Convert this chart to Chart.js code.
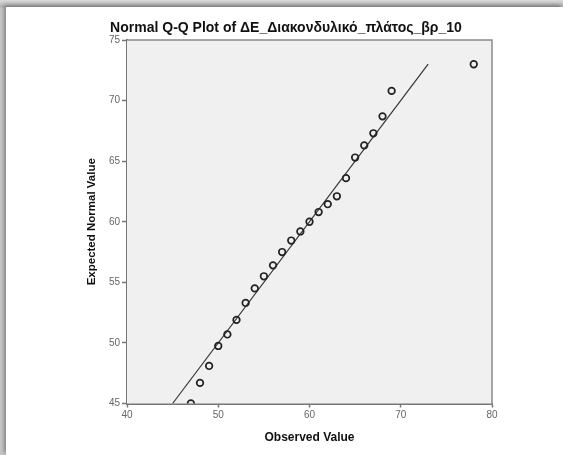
<!DOCTYPE html>
<html>
<head>
<meta charset="utf-8">
<script src="https://cdn.jsdelivr.net/npm/chart.js@4/dist/chart.umd.min.js"></script>
<style>
  html, body { margin: 0; padding: 0; }
  body { width: 563px; height: 455px; position: relative; overflow: hidden;
         background: linear-gradient(to bottom, #dcdcdc, #b4b4b4 7px, #c8c8c8 8px); }
  #card { position: absolute; left: 6px; top: 7px; right: 0; bottom: 0; background: #fff;
          box-shadow: -2px -2px 4px rgba(0,0,0,0.35); }
  #qq { position: absolute; left: 0; top: 0; }
</style>
</head>
<body>
<div id="card"></div>
<canvas id="qq" width="563" height="455"></canvas>
<script>
// observed values and their expected normal values
const observed = [47, 48, 49, 50, 51, 52, 53, 54, 55, 56, 57, 58, 59, 60, 61, 62, 63, 64, 65, 66, 67, 68, 69, 78];
const expected = [45.0, 46.7, 48.1, 49.75, 50.7, 51.9, 53.3, 54.5, 55.5, 56.4, 57.5, 58.45, 59.2, 60.0, 60.8, 61.45, 62.1, 63.6, 65.3, 66.3, 67.3, 68.7, 70.8, 73.0];

// reference line y = x
const lineX = [45, 73];
const lineY = [45, 73];

const xTicks = [40, 50, 60, 70, 80];
const yTicks = [45, 50, 55, 60, 65, 70, 75];

const fontFamily = '"Liberation Sans", Arial, sans-serif';

const plotFrame = {
    id: 'plotFrame',
    beforeDatasetsDraw(chart) {
        const { ctx, chartArea: a } = chart;
        ctx.save();
        ctx.fillStyle = '#f0f0f0';
        ctx.fillRect(a.left, a.top, a.right - a.left, a.bottom - a.top);
        ctx.strokeStyle = '#8a8a8a';
        ctx.lineWidth = 1.5;
        ctx.beginPath();
        ctx.moveTo(a.left, a.top);
        ctx.lineTo(a.right, a.top);
        ctx.lineTo(a.right, a.bottom);
        ctx.stroke();
        ctx.restore();
    }
};

const points = observed.map((v, i) => ({ x: v, y: expected[i] }));
const refLine = lineX.map((v, i) => ({ x: v, y: lineY[i] }));

new Chart(document.getElementById('qq'), {
    type: 'scatter',
    data: {
        datasets: [
            {
                data: points,
                pointStyle: 'circle',
                pointRadius: 3.3,
                pointBorderWidth: 1.7,
                borderColor: '#222',
                backgroundColor: 'rgba(0,0,0,0)'
            },
            {
                data: refLine,
                showLine: true,
                pointRadius: 0,
                borderColor: '#333',
                borderWidth: 1.2
            }
        ]
    },
    options: {
        responsive: false,
        animation: false,
        layout: { padding: { left: 80, right: 71, top: 0, bottom: 10 } },
        plugins: {
            legend: { display: false },
            tooltip: { enabled: false },
            title: {
                display: true,
                text: 'Normal Q-Q Plot of ΔΕ_Διακονδυλικό_πλάτος_βρ_10',
                color: '#111',
                font: { family: fontFamily, size: 14, weight: 'bold' },
                padding: { top: 19.5, bottom: 3.7 }
            }
        },
        scales: {
            x: {
                type: 'linear',
                min: 40,
                max: 80,
                afterBuildTicks: s => { s.ticks = xTicks.map(v => ({ value: v })); },
                afterFit: s => { s.height = 41.5; },
                grid: { drawOnChartArea: false, drawTicks: true, tickLength: 4, color: '#777', tickWidth: 1.5 },
                border: { display: true, color: '#777', width: 2 },
                ticks: { color: '#666', padding: 2, font: { family: fontFamily, size: 10 } },
                title: {
                    display: true,
                    text: 'Observed Value',
                    color: '#111',
                    font: { family: fontFamily, size: 12, weight: 'bold' },
                    padding: { top: 0, bottom: 0 }
                }
            },
            y: {
                type: 'linear',
                min: 45,
                max: 75,
                afterBuildTicks: s => { s.ticks = yTicks.map(v => ({ value: v })); },
                afterFit: s => { s.width = 47; s.paddingTop = 0; s.paddingBottom = 0; },
                grid: { drawOnChartArea: false, drawTicks: true, tickLength: 5, color: '#777', tickWidth: 1.5 },
                border: { display: true, color: '#777', width: 2 },
                ticks: { color: '#666', padding: 2, font: { family: fontFamily, size: 10 } },
                title: {
                    display: true,
                    text: 'Expected Normal Value',
                    color: '#111',
                    font: { family: fontFamily, size: 11.5, weight: 'bold' },
                    padding: { top: 5 }
                }
            }
        }
    },
    plugins: [plotFrame]
});
</script>
</body>
</html>
